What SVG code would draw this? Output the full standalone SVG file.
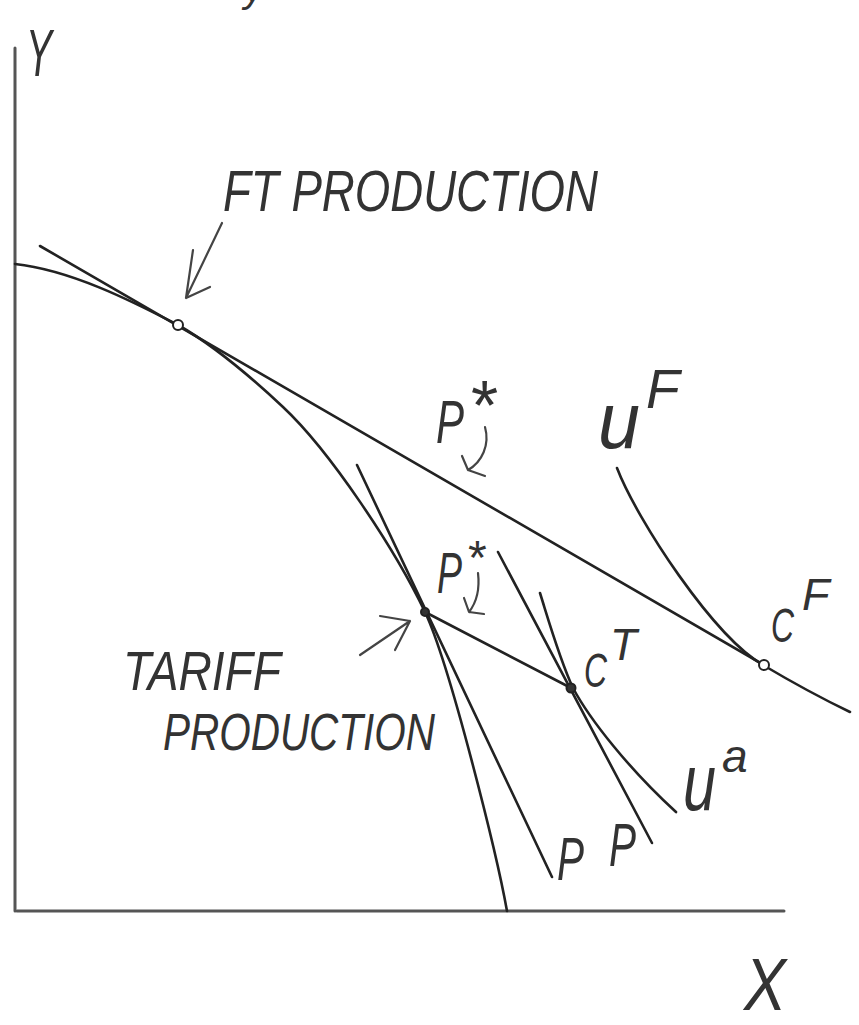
<svg xmlns="http://www.w3.org/2000/svg" width="859" height="1025" viewBox="0 0 859 1025">
<style>
  .axis { stroke:#555; stroke-width:3; fill:none; stroke-linecap:round; }
  .curve { stroke:#222; stroke-width:2.6; fill:none; stroke-linecap:round; stroke-linejoin:round; }
  .pen { stroke:#444; stroke-width:2.2; fill:none; stroke-linecap:round; stroke-linejoin:round; }
  .dot { stroke:#222; stroke-width:2; fill:#fff; }
  .dotf { stroke:#222; stroke-width:2; fill:#333; }
  text { font-family:"Liberation Sans", Arial, sans-serif; font-style:italic; fill:#333; }
</style>
<rect width="859" height="1025" fill="#fff"/>

<g id="axes">
  <line class="axis" x1="15" y1="48" x2="15" y2="911"/>
  <line class="axis" x1="17" y1="911" x2="784" y2="911"/>
</g>

<g id="ppf">
  <path class="curve" d="M15,264 C70,270 130,300 178,325 C213,345 250,376 283,407 C330,451 395,549 425,612 C450,665 497,855 507,911"/>
</g>

<g id="connectors">
  <line class="curve" x1="40" y1="246" x2="764" y2="665"/>
  <line class="curve" x1="425" y1="612" x2="573" y2="689"/>
  <line class="curve" x1="357" y1="465" x2="552" y2="877"/>
  <line class="curve" x1="498" y1="552" x2="652" y2="843"/>
  <path class="curve" d="M617,468 C637,520 713,636 763,665 C800,687 825,700 850,712"/>
  <path class="curve" d="M540,593 C550,625 560,660 573,688 C590,720 630,770 676,812"/>
  <path class="pen" d="M222,223 L186,298 M193,250 L186,298 L210,287"/>
  <path class="pen" d="M360,655 L410,621 M380,616 L410,621 L395,650"/>
  <path class="pen" d="M485,427 C490,445 482,462 468,470 M462,456 L468,470 L485,476"/>
  <path class="pen" d="M478,573 C480,590 476,603 469,612 M464,598 L469,612 L484,614"/>
</g>

<g id="points">
  <circle class="dot" cx="178" cy="325" r="5"/>
  <circle class="dotf" cx="425" cy="612" r="4"/>
  <circle class="dotf" cx="571" cy="688" r="4.5"/>
  <circle class="dot" cx="764" cy="665" r="5"/>
</g>

<g id="labels">
  <text x="244" y="2" font-size="40">y</text>
  <text x="26" y="76" font-size="66" textLength="26" lengthAdjust="spacingAndGlyphs">Y</text>
  <text x="223" y="211" font-size="58" textLength="375" lengthAdjust="spacingAndGlyphs">FT PRODUCTION</text>
  <text x="436" y="443" font-size="62" textLength="28" lengthAdjust="spacingAndGlyphs">P</text>
  <text x="468" y="430" font-size="70">*</text>
  <text x="437" y="593" font-size="58" textLength="25" lengthAdjust="spacingAndGlyphs">P</text>
  <text x="466" y="574" font-size="48">*</text>
  <text x="598" y="448" font-size="80" textLength="42" lengthAdjust="spacingAndGlyphs">u</text>
  <text x="646" y="408" font-size="55">F</text>
  <text x="771" y="642" font-size="48" textLength="23" lengthAdjust="spacingAndGlyphs">C</text>
  <text x="802" y="610" font-size="45">F</text>
  <text x="584" y="687" font-size="48" textLength="23" lengthAdjust="spacingAndGlyphs">C</text>
  <text x="610" y="660" font-size="44">T</text>
  <text x="683" y="810" font-size="80" textLength="33" lengthAdjust="spacingAndGlyphs">u</text>
  <text x="722" y="772" font-size="46">a</text>
  <text x="557" y="880" font-size="62" textLength="27" lengthAdjust="spacingAndGlyphs">P</text>
  <text x="609" y="866" font-size="62" textLength="27" lengthAdjust="spacingAndGlyphs">P</text>
  <text x="123" y="690" font-size="55" textLength="158" lengthAdjust="spacingAndGlyphs">TARIFF</text>
  <text x="163" y="750" font-size="52" textLength="272" lengthAdjust="spacingAndGlyphs">PRODUCTION</text>
  <text x="744" y="1010" font-size="74" textLength="42" lengthAdjust="spacingAndGlyphs">X</text>
</g>
</svg>
